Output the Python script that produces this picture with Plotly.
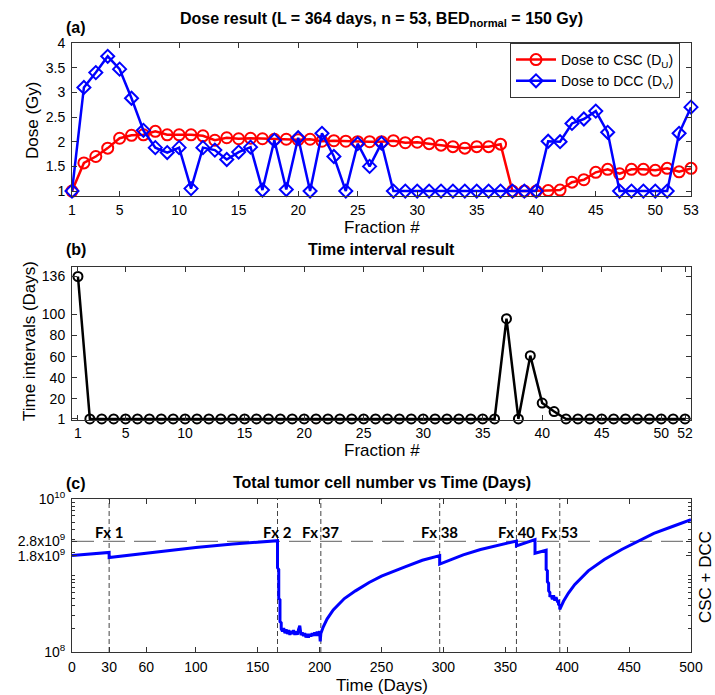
import plotly.graph_objects as go

# ---------------- data ----------------
fractions_a = list(range(1, 54))
dose_csc = [1.00, 1.57, 1.70, 1.87, 2.07, 2.13, 2.14, 2.21, 2.14, 2.14,
            2.14, 2.12, 2.03, 2.08, 2.06, 2.07, 2.06, 2.05, 2.05, 2.04,
            2.05, 2.01, 2.02, 2.01, 2.00, 2.00, 2.00, 2.02, 1.98, 1.99,
            1.96, 1.93, 1.90, 1.87, 1.90, 1.90, 1.95, 1.00, 1.00, 1.00,
            1.01, 1.02, 1.18, 1.23, 1.38, 1.44, 1.35, 1.44, 1.44, 1.42,
            1.46, 1.39, 1.46]
dose_dcc = [1.00, 3.10, 3.40, 3.73, 3.47, 2.88, 2.23, 1.88, 1.78, 1.88,
            1.05, 1.88, 1.83, 1.64, 1.79, 1.89, 1.02, 2.03, 1.03, 2.08,
            1.00, 2.17, 1.70, 1.00, 1.96, 1.50, 1.97, 1.00, 1.00, 1.00,
            1.00, 1.00, 1.00, 1.00, 1.00, 1.00, 1.00, 1.00, 1.00, 1.00,
            2.01, 2.00, 2.37, 2.46, 2.62, 2.19, 1.00, 1.00, 1.00, 1.00,
            1.00, 2.17, 2.70]

fractions_b = list(range(1, 53))
time_intervals = [136, 1, 1, 1, 1, 1, 1, 1, 1, 1,
                  1, 1, 1, 1, 1, 1, 1, 1, 1, 1,
                  1, 1, 1, 1, 1, 1, 1, 1, 1, 1,
                  1, 1, 1, 1, 1, 1, 96, 1, 61, 16,
                  8, 1, 1, 1, 1, 1, 1, 1, 1, 1,
                  1, 1]

time_days = [0, 15, 30, 30, 60, 100, 130, 166,
             166, 167, 167, 168, 168, 169, 169,
             170, 171, 172, 173, 174, 175, 176, 177, 178, 179,
             180, 181, 182, 183, 184, 185, 186, 187, 188, 189,
             190, 191, 192, 193, 194, 195, 196, 197, 198, 199,
             200, 200.5, 201,
             203, 206, 211, 220, 229, 240, 250, 260, 269, 283, 297,
             297, 303, 316, 330, 345, 359,
             359, 366, 374, 374, 383,
             383, 384, 384, 385, 385, 386, 386, 387, 388, 389, 390, 391, 392,
             393, 393, 394, 394,
             397, 401, 406, 417, 430, 444, 455, 470, 485, 500]
tumor_cells = [1.83e9, 1.91e9, 2.00e9, 1.72e9, 1.95e9, 2.33e9, 2.58e9, 2.85e9,
               1.26e9, 1.20e9, 5.0e8, 4.8e8, 2.5e8, 2.4e8, 2.0e8,
               1.86e8, 2.05e8, 1.76e8, 1.98e8, 1.72e8, 1.93e8, 1.68e8, 1.88e8, 1.72e8, 1.93e8,
               1.68e8, 1.85e8, 1.68e8, 1.98e8, 2.2e8, 1.66e8, 1.8e8, 1.62e8, 1.76e8, 1.55e8,
               1.72e8, 1.55e8, 1.72e8, 1.6e8, 1.76e8, 1.63e8, 1.8e8, 1.63e8, 1.85e8, 1.63e8,
               1.88e8, 1.38e8, 1.74e8,
               2.14e8, 2.69e8, 3.55e8, 5.0e8, 6.3e8, 8.1e8, 9.8e8, 1.15e9, 1.30e9, 1.58e9, 1.82e9,
               1.41e9, 1.55e9, 1.86e9, 2.19e9, 2.51e9, 2.82e9,
               2.43e9, 2.69e9, 2.95e9, 1.95e9, 2.14e9,
               1.20e9, 1.15e9, 8.3e8, 7.9e8, 6.3e8, 6.0e8, 5.25e8, 5.5e8, 4.9e8, 5.5e8, 4.7e8, 5.2e8, 4.6e8,
               4.6e8, 4.2e8, 4.0e8, 3.6e8,
               4.6e8, 5.9e8, 7.6e8, 1.15e9, 1.62e9, 2.19e9, 2.69e9, 3.55e9, 4.37e9, 5.37e9]

fx_days = [30, 166, 201, 297, 359, 394]
fx_labels = ["Fx 1", "Fx 2", "Fx 37", "Fx 38", "Fx 40", "Fx 53"]
threshold = 2.8e9

ticks_a = [1, 5, 10, 15, 20, 25, 30, 35, 40, 45, 50, 53]
ticks_b = [1, 5, 10, 15, 20, 25, 30, 35, 40, 45, 50, 52]
yticks_a = [1, 1.5, 2, 2.5, 3, 3.5, 4]
yticklabels_a = ["1", "1.5", "2", "2.5", "3", "3.5", "4"]
yticks_b = [1, 20, 40, 60, 80, 100, 136]
xticks_c = [0, 30, 60, 100, 150, 200, 250, 300, 350, 400, 450, 500]
yticks_c = [1e8, 1.8e9, 2.8e9, 1e10]
yticklabels_c = ["10<sup>8</sup>", "1.8x10<sup>9</sup>", "2.8x10<sup>9</sup>", "10<sup>10</sup>"]
minor_c = [2e8, 3e8, 4e8, 5e8, 6e8, 7e8, 8e8, 9e8, 1e9,
           2e9, 3e9, 4e9, 5e9, 6e9, 7e9, 8e9, 9e9]

# ---------------- layout helpers ----------------
W, H = 715, 695
ML, MR, MT, MB = 72, 24, 43, 43
PW, PH = W - ML - MR, H - MT - MB


def pxx(p):
    return (p - ML) / PW


def pxy(p):
    return 1 - (p - MT) / PH


FONT = "Liberation Sans, Arial, sans-serif"
AX = "#333333"

fig = go.Figure()

# panel a
fig.add_trace(go.Scatter(x=fractions_a, y=dose_csc, mode="lines+markers",
                         name="Dose to CSC (D<sub>U</sub>)",
                         line=dict(color="#ff0000", width=2.5),
                         marker=dict(symbol="circle-open", size=11, color="#ff0000",
                                     line=dict(width=2, color="#ff0000")),
                         cliponaxis=False, xaxis="x", yaxis="y"))
fig.add_trace(go.Scatter(x=fractions_a, y=dose_dcc, mode="lines+markers",
                         name="Dose to DCC (D<sub>V</sub>)",
                         line=dict(color="#0000ff", width=2.5),
                         marker=dict(symbol="diamond-open", size=10, color="#0000ff",
                                     line=dict(width=2, color="#0000ff")),
                         cliponaxis=False, xaxis="x", yaxis="y"))

# panel b
fig.add_trace(go.Scatter(x=fractions_b, y=time_intervals, mode="lines+markers",
                         showlegend=False,
                         line=dict(color="#000000", width=2.5),
                         marker=dict(symbol="circle-open", size=9, color="#000000",
                                     line=dict(width=2, color="#000000")),
                         cliponaxis=False, xaxis="x2", yaxis="y2"))

# panel c: reference lines
fig.add_trace(go.Scatter(x=[xticks_c[0], xticks_c[-1]], y=[threshold, threshold], mode="lines",
                         showlegend=False, line=dict(color="#7f7f7f", width=1.2, dash="22px,9px"),
                         xaxis="x3", yaxis="y3"))
for d in fx_days:
    fig.add_trace(go.Scatter(x=[d, d], y=[yticks_c[0], yticks_c[-1]], mode="lines",
                             showlegend=False, line=dict(color="#444444", width=1, dash="5px,3px"),
                             xaxis="x3", yaxis="y3"))
fig.add_trace(go.Scatter(x=time_days, y=tumor_cells, mode="lines", showlegend=False,
                         line=dict(color="#0000ff", width=3), xaxis="x3", yaxis="y3"))

axcommon = dict(showline=True, linecolor=AX, linewidth=1, mirror="ticks", ticks="inside",
                ticklen=5, tickcolor=AX, showgrid=False, zeroline=False,
                tickfont=dict(family=FONT, size=14, color="#000000"))

da = (pxy(196), 1.0)
db = (pxy(420), pxy(267))
dc = (0.0, pxy(499))

fig.update_layout(
    width=W, height=H, margin=dict(l=ML, r=MR, t=MT, b=MB),
    paper_bgcolor="white", plot_bgcolor="white",
    font=dict(family=FONT, size=14, color="#000000"),
    xaxis=dict(domain=[0, 1], anchor="y", range=[1, 53], tickmode="array", tickvals=ticks_a,
               ticklabelstandoff=1, **axcommon),
    yaxis=dict(domain=list(da), anchor="x", range=[0.9, 4], tickmode="array",
               tickvals=yticks_a, ticktext=yticklabels_a, ticklabelstandoff=3, **axcommon),
    xaxis2=dict(domain=[0, 1], anchor="y2", range=[0.5, 52.5], tickmode="array", tickvals=ticks_b,
                ticklabelstandoff=0, **axcommon),
    yaxis2=dict(domain=list(db), anchor="x2", range=[0, 145], tickmode="array", tickvals=yticks_b,
                ticklabelstandoff=3, **axcommon),
    xaxis3=dict(domain=[0, 1], anchor="y3", range=[0, 500], tickmode="array", tickvals=xticks_c,
                ticklabelstandoff=2, **axcommon),
    yaxis3=dict(domain=list(dc), anchor="x3", type="log", range=[8, 10], tickmode="array",
                tickvals=yticks_c, ticktext=yticklabels_c, ticklabelstandoff=3,
                minor=dict(tickmode="array", tickvals=minor_c, ticks="inside", ticklen=3,
                           tickcolor=AX, showgrid=False),
                **axcommon),
    legend=dict(x=pxx(680), y=1.0, xanchor="right", yanchor="top",
                bgcolor="white", bordercolor=AX, borderwidth=1,
                font=dict(family=FONT, size=14, color="#000000"),
                itemwidth=40),
    showlegend=True,
)

ann = []


def add_text(text, x, y, size, bold=False, angle=0, xanchor="center", family=FONT):
    t = f"<b>{text}</b>" if bold else text
    ann.append(dict(text=t, x=pxx(x), y=pxy(y), xref="paper", yref="paper",
                    xanchor=xanchor, yanchor="middle", showarrow=False, textangle=angle,
                    font=dict(family=family, size=size, color="#000000")))


add_text("Dose result (L = 364 days, n = 53, BED<sub>normal</sub> = 150 Gy)", 381.5, 20, 16, bold=True)
add_text("(a)", 76, 27, 16, bold=True)
add_text("Fraction #", 381.5, 228, 17)
add_text("Dose (Gy)", 33, 120, 17, angle=-90)

add_text("Time interval result", 381.5, 250, 16, bold=True)
add_text("(b)", 76, 250, 16, bold=True)
add_text("Fraction #", 381.5, 450, 17)
add_text("Time intervals (Days)", 29, 341, 17, angle=-90)

add_text("Total tumor cell number vs Time (Days)", 381.5, 482, 16, bold=True)
add_text("(c)", 76, 483, 16, bold=True)
add_text("Time (Days)", 381.5, 685, 17)
add_text("CSC + DCC", 705, 577, 17, angle=-90)

for d, lab in zip(fx_days, fx_labels):
    ann.append(dict(text=f"<b>{lab}</b>", x=d, y=pxy(532), xref="x3", yref="paper",
                    xanchor="center", yanchor="middle", showarrow=False,
                    font=dict(family="Lato, Open Sans, sans-serif", size=15, color="#000000")))

fig.update_layout(annotations=ann)

fig.write_html("out.html", config={"displayModeBar": False},
               post_script="document.body.style.margin='0px';")
